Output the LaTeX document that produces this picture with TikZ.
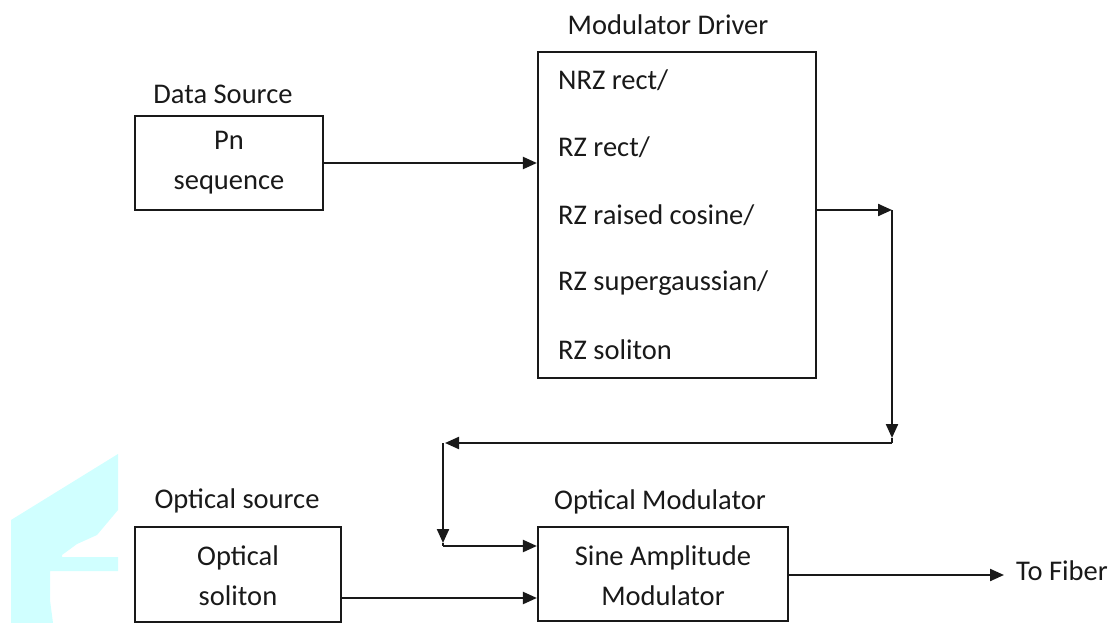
\documentclass[tikz,border=0pt]{standalone}
\usepackage{fontspec}
\setmainfont{Carlito}
\usetikzlibrary{arrows.meta}
\definecolor{wmark}{RGB}{208,255,255}
\definecolor{ink}{RGB}{25,25,25}
\tikzset{
  blockbox/.style={draw=ink, line width=2.2pt, minimum width=#1, inner sep=0pt},
  lbl/.style={font=\fontsize{28.5}{34}\selectfont, text=ink, inner sep=0pt},
  txt/.style={font=\fontsize{28.5}{40}\selectfont, text=ink, inner sep=0pt, align=center},
  item/.style={font=\fontsize{28.5}{34}\selectfont, text=ink, inner sep=0pt, anchor=west},
  conn/.style={draw=ink, line width=2.2pt, -{Triangle[length=14pt,width=12pt]}},
  seg/.style={draw=ink, line width=2.2pt}
}
\begin{document}
\begin{tikzpicture}[x=1pt,y=-1pt]
\useasboundingbox (0,0) rectangle (1114,623);
% watermark
\fill[wmark] (11,623) -- (11,520) -- (118,454) -- (118,510) -- (97,535) -- (77,544) -- (62,555) -- (62,557) -- (118,557) -- (118,571) -- (50,571) -- (50,600) -- (53,623) -- cycle;
% blocks
\node[blockbox=188pt, minimum height=94pt] (ds) at (229,163) {};
\node[blockbox=278pt, minimum height=326pt] (md) at (677,215) {};
\node[blockbox=206pt, minimum height=95pt] (os) at (238,574.5) {};
\node[blockbox=250pt, minimum height=94pt] (om) at (663,574) {};
% labels
\node[lbl] (dsl) at (223,94) {Data Source};
\node[lbl] (mdl) at (668,25) {Modulator Driver};
\node[lbl] (osl) at (237,501) {Optical source};
\node[lbl] (oml) at (660,502) {Optical Modulator};
% texts
\node[txt] (dst) at (229,163) {Pn\\sequence};
\node[txt] (ost) at (238,576) {Optical\\soliton};
\node[txt] (omt) at (663,576) {Sine Amplitude\\Modulator};
\node[item] (i1) at (558,80) {NRZ rect/};
\node[item] (i2) at (558,147) {RZ rect/};
\node[item] (i3) at (558,215) {RZ raised cosine/};
\node[item] (i4) at (558,283) {RZ supergaussian/};
\node[item] (i5) at (558,350) {RZ soliton};
\node[lbl, anchor=west] (fib) at (1016,571) {To Fiber};
% coordinates
\coordinate (a1) at (892,210);
\coordinate (a2) at (892,438);
\coordinate (a3) at (892,443);
\coordinate (a4) at (445,443);
\coordinate (a5) at (443,443);
\coordinate (a6) at (443,543);
\coordinate (a7) at (443,546);
\coordinate (fe) at (1004,575);
% connectors
\draw[conn] (ds.east) -- (ds.east -| md.west);
\draw[conn] (a1 -| md.east) -- (a1);
\draw[conn] (a1) -- (a2);
\draw[seg] (a2) -- (a3);
\draw[conn] (a3) -- (a4);
\draw[conn] (a5) -- (a6);
\draw[seg] (a6) -- (a7);
\draw[conn] (a7) -- (a7 -| om.west);
\draw[conn] (os.east |- 0,598) -- (om.west |- 0,598);
\draw[conn] (om.east |- fe) -- (fe);
\end{tikzpicture}
\end{document}
